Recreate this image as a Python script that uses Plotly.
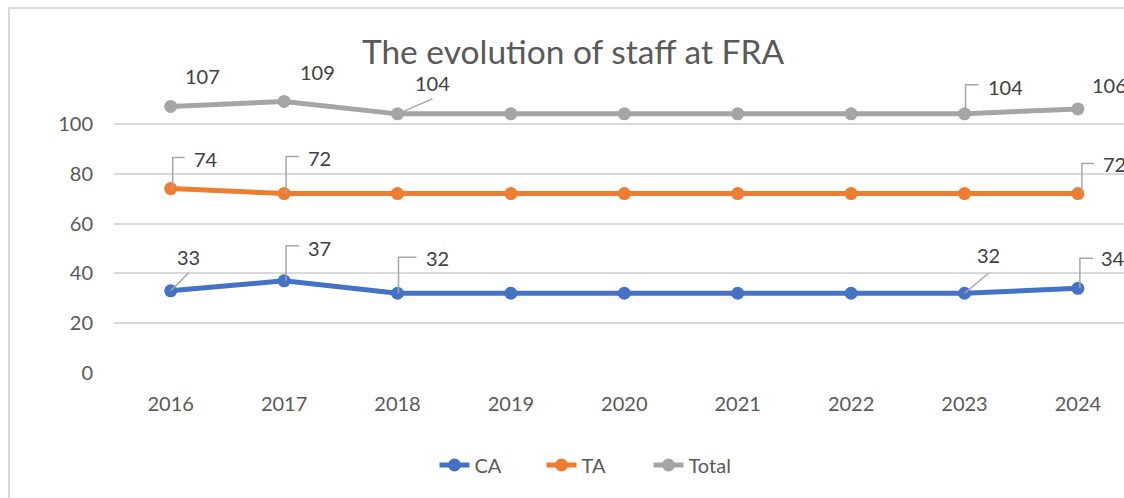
import plotly.graph_objects as go

years = [2016, 2017, 2018, 2019, 2020, 2021, 2022, 2023, 2024]
ca = [33, 37, 32, 32, 32, 32, 32, 32, 34]
ta = [74, 72, 72, 72, 72, 72, 72, 72, 72]
total = [107, 109, 104, 104, 104, 104, 104, 104, 106]

series_names = ["CA", "TA", "Total"]
series_values = [ca, ta, total]
series_colors = ["#4472C4", "#ED7D31", "#A5A5A5"]

# labelled points: (series index, year index, label dx, label dy (screen px), leader)
labels = [
    (2, 0, 32, -30, None),
    (2, 1, 33, -29, None),
    (2, 2, 35, -31, ("diag", 35, -15)),
    (2, 7, 41, -27, ("elbow", 1, -29, 14)),
    (2, 8, 32, -24, None),
    (1, 0, 35, -30, ("elbow", 2, -31, 14)),
    (1, 1, 35, -36, ("elbow", 2, -37, 15)),
    (1, 8, 37, -30, ("elbow", 4, -30, 16)),
    (0, 0, 18, -34, ("diag", 18, -18)),
    (0, 1, 35, -33, ("elbow", 2, -35, 15)),
    (0, 2, 40, -35, ("elbow", 1, -36, 19)),
    (0, 7, 24, -38, ("diag", 24, -20)),
    (0, 8, 35, -30, ("elbow", 2, -30, 15)),
]

FONT = "Lato, 'Open Sans', sans-serif"
TXT = "#595959"
LBL = "#404040"

fig = go.Figure()
for name, vals, col in zip(series_names, series_values, series_colors):
    fig.add_trace(go.Scatter(
        x=years, y=vals, name=name, mode="lines+markers",
        line=dict(color=col, width=5),
        marker=dict(color=col, size=13),
        cliponaxis=False,
    ))

annotations = []
shapes = []
for si, yi, dx, dy, leader in labels:
    xv = years[yi]
    yv = series_values[si][yi]
    annotations.append(dict(
        x=xv, y=yv, xref="x", yref="y", text=str(yv), showarrow=False,
        xshift=dx, yshift=-dy, font=dict(family=FONT, size=20, color=LBL),
        xanchor="center", yanchor="middle",
    ))
    if leader is not None:
        if leader[0] == "diag":
            _, ex, ey = leader
            path = f"M 0 0 L {ex} {-ey}"
        else:
            _, vx, vy, hx = leader
            path = f"M {vx} 0 L {vx} {-vy} L {hx} {-vy}"
        shapes.append(dict(
            type="path", xref="x", yref="y", xsizemode="pixel", ysizemode="pixel",
            xanchor=xv, yanchor=yv, path=path,
            line=dict(color="#A6A6A6", width=1.5), layer="above",
        ))

# chart border (light grey frame, partly cut off)
shapes.append(dict(
    type="rect", xref="paper", yref="paper",
    x0=-0.104, x1=1.05, y0=-0.6, y1=1.221,
    line=dict(color="#D9D9D9", width=2), layer="below",
))

fig.update_layout(
    width=1124, height=498,
    margin=dict(l=114, r=0, t=74, b=125),
    paper_bgcolor="white", plot_bgcolor="white",
    title=dict(text="The evolution of staff at FRA", x=(573 / 1124), xref="container",
               xanchor="center", y=1 - 52 / 498, yanchor="middle",
               font=dict(family=FONT, size=33.5, color=TXT)),
    xaxis=dict(
        range=[2015.5, 2015.5 + (1124 - 114) / 113.4],
        tickvals=years, ticktext=[str(y) for y in years],
        showgrid=False, zeroline=False, showline=False,
        ticks="", ticklabelstandoff=17,
        tickfont=dict(family=FONT, size=20, color=TXT),
    ),
    yaxis=dict(
        range=[0, 120], tickvals=[0, 20, 40, 60, 80, 100],
        showgrid=True, gridcolor="#D9D9D9", gridwidth=1.5,
        zeroline=False, showline=False, ticks="", ticklabelstandoff=20,
        tickfont=dict(family=FONT, size=20, color=TXT),
    ),
    legend=dict(orientation="h", x=(595 - 114) / 1010, xanchor="center",
                y=(373 - 465) / 299, yanchor="middle",
                entrywidth=62, entrywidthmode="pixels",
                font=dict(family=FONT, size=20, color=TXT)),
    annotations=annotations,
    shapes=shapes,
)

fig.write_html(
    "out.html",
    config={"displayModeBar": False},
    post_script="document.body.style.margin='0';document.body.style.overflow='hidden';",
)
